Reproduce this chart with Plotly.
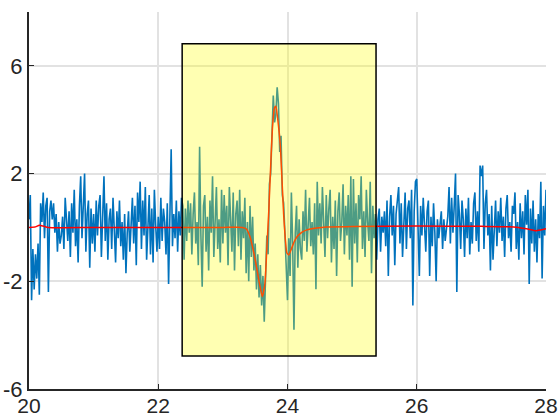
import plotly.graph_objects as go

# sampled signal, one value every 0.02 starting at 20
t_start = 20.0
t_step = 0.02
measured = [
    # 20.00 - 20.48
    0.3, 1.2, -2.7, -0.8, -2.3, -1.0, -1.9, -0.6, -2.5, 0.9, 0.2, 1.3, -0.4, 0.8, 1.1, -2.4, 0.6, 1.0, 0.3, 0.9, -0.2, 0.5, -0.9, 0.2, -0.6,
    # 20.50 - 20.98
    -0.3, 0.4, -0.8, 1.1, 0.2, -0.5, 0.6, -1.1, 0.9, -0.2, 1.4, -0.7, 0.3, -1.3, 0.8, 1.9, -0.4, 1.2, 2.0, -0.9, 0.5, 1.0, -1.5, 0.7, -0.6,
    # 21.00 - 21.48
    0.5, -0.9, 1.0, -0.3, 0.8, 1.2, -1.1, 0.4, 1.9, -0.5, 0.9, -1.2, 0.3, 0.7, -0.8, 1.1, 0.0, -1.3, 0.6, -0.4, 1.0, -0.7, 0.2, -1.2, 0.5,
    # 21.50 - 21.98
    -1.7, -0.2, 0.6, -0.9, 0.3, 1.1, -0.6, 0.8, -1.4, 1.3, 0.2, 1.7, -0.8, 1.0, -0.3, 1.5, -1.2, 0.4, 1.2, -1.0, 0.7, -1.3, 1.4, 0.1, -0.9,
    # 22.00 - 22.48
    0.4, -0.8, 1.1, -0.5, 0.7, 0.2, -1.0, 0.9, -2.1, 0.3, 2.9, -0.7, 0.5, -0.4, 1.0, -0.9, 0.6, -0.3, 1.1, 0.8, -1.2, 0.7, -0.5, 1.0, -0.2,
    # 22.50 - 22.98
    0.9, -1.0, 0.5, 1.3, -0.6, 0.2, -1.4, 3.0, -0.3, -2.2, 0.8, 1.2, -0.9, 0.4, -1.6, 1.0, -0.2, 1.9, -1.1, 0.6, 1.5, -0.8, 0.3, -1.3, 1.4,
    # 23.00 - 23.48
    -0.6, 1.2, -0.2, 0.8, -1.4, 1.5, 0.3, -0.9, 1.3, -1.6, 0.5, 1.0, -0.7, 1.4, -1.2, 0.6, -0.4, 1.1, -1.7, 0.2, -2.0, 0.8, -1.1, 0.4, -1.6,
    # 23.50 - 23.98
    -0.6, -2.3, -1.0, -2.6, -1.4, -2.9, -1.8, -3.5, -2.2, -0.3, -1.0, 1.6, 2.0, 3.6, 4.9, 3.9, 4.2, 5.2, 4.6, 2.8, 3.4, 1.2, 0.9, -0.2, -1.5,
    # 24.00 - 24.48
    -2.7, -0.4, -1.8, 1.3, -0.6, -3.8, -0.2, 0.8, -1.5, 0.3, -0.8, -1.2, 0.6, -0.5, 1.4, -0.9, 0.5, 1.1, -0.7, 0.2, -1.0, 0.9, -2.3, 1.7, -0.3,
    # 24.50 - 24.98
    0.9, -0.6, 1.5, 0.2, -1.1, 1.2, -0.4, 0.7, 1.4, -1.3, 0.4, -0.8, 1.0, -1.8, 0.6, 1.3, -0.5, 0.2, 1.6, -1.0, 0.8, -0.3, 1.2, -1.2, 1.9,
    # 25.00 - 25.48
    -2.2, 1.8, -0.6, 0.9, -1.3, 1.2, 0.3, 1.9, -0.8, 0.6, -1.1, 1.4, 0.2, -0.5, 1.7, -1.7, 0.8, -0.4, 0.5, -1.2, 0.3, 0.7, -0.9, 0.4, -0.2,
    # 25.50 - 25.98
    0.6, -0.7, 1.0, -1.8, 0.4, 1.2, -0.3, 0.8, -1.4, 0.5, 1.1, 1.5, -0.6, 0.9, -1.1, 0.3, 1.3, -0.8, 0.7, 1.0, -0.4, 1.4, -2.9, 0.6, 1.7,
    # 26.00 - 26.48
    1.8, -0.5, -1.8, 0.8, -0.3, 1.1, 0.2, -0.9, 0.6, 1.0, -1.8, 0.4, -0.7, 0.9, -0.2, -2.0, 0.3, -0.4, 0.1, 0.6, -0.8, 0.3, -0.5, -0.1, 0.4,
    # 26.50 - 26.98
    1.5, -0.6, 1.1, -0.2, 0.8, 2.0, -2.4, 1.2, 0.5, -0.8, 1.0, 0.3, -1.1, 0.7, -0.4, 1.1, -1.0, 0.2, -0.6, 0.9, 1.3, -0.5, 0.6, -0.9, 2.3,
    # 27.00 - 27.48
    1.9, 2.3, -0.8, 0.9, 1.4, -0.3, 0.5, -1.6, 0.8, -1.2, 0.3, 1.0, -0.7, 0.6, -0.2, 1.1, -0.5, 0.4, -1.1, 0.7, 1.2, -0.4, 0.2, -0.9, 0.8,
    # 27.50 - 27.98
    0.5, 1.3, -0.8, 0.2, -1.2, 0.9, -0.4, 0.6, -1.0, 1.2, 0.1, 1.4, -2.1, 0.7, -0.6, 1.0, -0.9, 0.3, -1.3, 0.5, -0.4, 1.7, -1.9, 0.8, -0.3,
    # 28.00
    1.4,
]
t = [t_start + t_step * i for i in range(len(measured))]

# smooth fitted curve (red)
fit_t = [20.0, 20.1, 20.16, 20.22, 20.3, 21.0, 22.0, 23.0, 23.3, 23.36, 23.42, 23.5, 23.56,
         23.61, 23.65, 23.68, 23.71, 23.74, 23.77, 23.8, 23.82, 23.85, 23.89, 23.94, 23.99,
         24.02, 24.06, 24.1, 24.15, 24.22, 24.3, 24.45, 24.6, 25.0, 26.0, 27.0, 27.5, 27.7,
         27.85, 27.95, 28.0]
fit_y = [0, 0.02, 0.08, 0.05, 0, 0, 0, 0, 0, -0.05, -0.35, -1.2, -2.0,
         -2.57, -2.1, -0.8, 0.6, 2.3, 3.8, 4.45, 4.5, 4.0, 3.0, 0.5, -0.94,
         -1.02, -0.8, -0.55, -0.34, -0.18, -0.09, -0.02, 0.02, 0.03, 0.05, 0.04, 0.02, -0.05,
         -0.12, -0.08, -0.05]

# highlighted window
win_x = [22.37, 25.37]
win_y = [-4.77, 6.82]

x_ticks = [20, 22, 24, 26, 28]
y_ticks = [-6, -2, 2, 6]
y_labels = ["-6", "-2", "2", "6"]

fig = go.Figure()
fig.add_trace(go.Scatter(x=t, y=measured, mode="lines",
                         line=dict(color="#0072BD", width=1.6), showlegend=False))
fig.add_trace(go.Scatter(x=fit_t, y=fit_y, mode="lines",
                         line=dict(color="#FF0000", width=1.5, shape="spline", smoothing=0.5),
                         showlegend=False))

fig.add_shape(type="rect", x0=win_x[0], x1=win_x[1], y0=win_y[0], y1=win_y[1],
              xref="x", yref="y", layer="above",
              fillcolor="rgba(255,255,0,0.3)", line=dict(color="black", width=1.5))

axis_font = dict(family="Liberation Sans, Arial, sans-serif", size=22, color="#262626")
fig.update_xaxes(range=[20, 28], tickvals=x_ticks, showgrid=True, gridcolor="#E2E2E2",
                 gridwidth=1.5, zeroline=False, showline=True, linecolor="#262626",
                 linewidth=2, ticks="inside", ticklen=5, tickcolor="#262626",
                 tickfont=dict(axis_font, size=21), ticklabelstandoff=-3,
                 automargin=False)
fig.update_yaxes(range=[-6, 8], tickvals=y_ticks, ticktext=y_labels, showgrid=True,
                 gridcolor="#E2E2E2", gridwidth=1.5, zeroline=False, showline=True,
                 linecolor="#262626", linewidth=2, ticks="inside", ticklen=5,
                 tickcolor="#262626", tickfont=axis_font, automargin=False)

fig.update_layout(width=560, height=420, plot_bgcolor="white", paper_bgcolor="white",
                  margin=dict(l=29, r=14, t=12, b=31))

# page body has a default 8px margin; drop it so the figure sits at the corner
fig.write_html("out.html", config={"displayModeBar": False},
               post_script="document.body.style.margin='0';")
